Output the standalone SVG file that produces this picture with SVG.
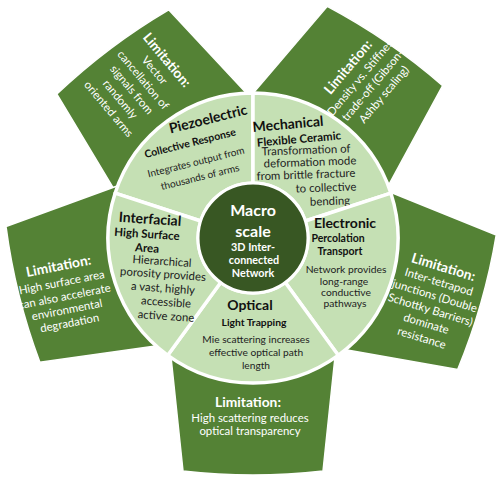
<svg xmlns="http://www.w3.org/2000/svg" width="502" height="485" viewBox="0 0 502 485">
<defs>
<path id="petal" d="M 90.3,40 L 70,233 A 614 614 0 0 1 -70,233 L -90.3,40 Z"/>
</defs>
<style>
.petal{fill:#548235;stroke:#ffffff;stroke-width:1.5}
.sector{fill:#c5e0b4;stroke:#ffffff;stroke-width:3.5;stroke-linejoin:round}
.core{fill:#385723;stroke:#ffffff;stroke-width:3}
text{font-family:Lato,"Open Sans","Liberation Sans",sans-serif;text-anchor:middle}
.lt{font-size:13.8px;font-weight:bold;fill:#ffffff}
.lb{font-size:11.4px;fill:#ffffff}
.h{font-size:14px;font-weight:bold;fill:#111111}
.s{font-weight:bold;fill:#111111}
.t{fill:#222222}
.ct{font-size:16px;font-weight:bold;fill:#ffffff}
.cs{font-size:10.8px;font-weight:bold;fill:#ffffff}
</style>

<g id="limit-piezoelectric">
<use href="#petal" class="petal" transform="translate(253,238) rotate(143)"/>
<g transform="translate(167,60) rotate(50)">
<text class="lt" x="0" y="4.8">Limitation:</text>
<text class="lb" x="0" y="20">Vector</text>
<text class="lb" x="0" y="35">cancellation of</text>
<text class="lb" x="0" y="50">signals from</text>
<text class="lb" x="0" y="65">randomly</text>
<text class="lb" x="0" y="80">oriented arms</text>
</g>
</g>

<g id="limit-mechanical">
<use href="#petal" class="petal" transform="translate(253,238) rotate(214.5)"/>
<g transform="translate(348,67) rotate(-50)">
<text class="lt" x="0" y="4.8">Limitation:</text>
<text class="lb" x="2" y="20">Density vs. Stiffness</text>
<text class="lb" x="2" y="34.5">trade-off (Gibson-</text>
<text class="lb" x="2" y="49">Ashby scaling)</text>
</g>
</g>

<g id="limit-electronic">
<use href="#petal" class="petal" transform="translate(253,238) rotate(286)"/>
<g transform="translate(443.5,267) rotate(17)">
<text class="lt" x="0" y="4.8">Limitation:</text>
<text class="lb" x="0" y="19.5">Inter-tetrapod</text>
<text class="lb" x="0" y="34">junctions (Double</text>
<text class="lb" x="0" y="48.5">Schottky Barriers)</text>
<text class="lb" x="0" y="63">dominate</text>
<text class="lb" x="0" y="78">resistance</text>
</g>
</g>

<g id="limit-optical">
<use href="#petal" class="petal" transform="translate(253,238)"/>
<text class="lt" x="248" y="406.8">Limitation:</text>
<text class="lb" x="250" y="422">High scattering reduces</text>
<text class="lb" x="250" y="435">optical transparency</text>
</g>

<g id="limit-interfacial">
<use href="#petal" class="petal" transform="translate(249,238) rotate(76)"/>
<g transform="translate(58.5,266) rotate(-11)">
<text class="lt" x="0" y="4.8">Limitation:</text>
<text class="lb" x="0" y="20.5">High surface area</text>
<text class="lb" x="0" y="35">can also accelerate</text>
<text class="lb" x="0" y="48.5">environmental</text>
<text class="lb" x="0" y="62">degradation</text>
</g>
</g>

<g id="piezoelectric">
<path class="sector" d="M 115.10,193.19 A 145 145 0 0 1 253,93 L 253,183 A 55 55 0 0 0 200.69,221 Z"/>
<text class="h" transform="translate(208,119) rotate(-14)" y="4.9">Piezoelectric</text>
<text class="s" font-size="10.5" transform="translate(190,143) rotate(-14)" y="3.7">Collective Response</text>
<text class="t" font-size="10" transform="translate(196,162) rotate(-14)" y="3.5">Integrates output from</text>
<text class="t" font-size="10" transform="translate(200,177) rotate(-14)" y="3.5">thousands of arms</text>
</g>

<g id="mechanical">
<path class="sector" d="M 253,93 A 145 145 0 0 1 390.90,193.19 L 305.31,221 A 55 55 0 0 0 253,183 Z"/>
<text class="h" transform="translate(288,124) rotate(-5)" y="4.9">Mechanical</text>
<text class="s" font-size="11.5" transform="translate(299,139) rotate(-5)" y="4">Flexible Ceramic</text>
<text class="t" font-size="11.4" transform="translate(306,150) rotate(-2)" y="4">Transformation of</text>
<text class="t" font-size="11.4" transform="translate(310,162) rotate(-2)" y="4">deformation mode</text>
<text class="t" font-size="11.4" transform="translate(306,174.5) rotate(-2)" y="4">from brittle fracture</text>
<text class="t" font-size="11.4" transform="translate(326,187.5) rotate(-2)" y="4">to collective</text>
<text class="t" font-size="11.4" transform="translate(330,201) rotate(-2)" y="4">bending</text>
</g>

<g id="electronic">
<path class="sector" d="M 390.90,193.19 A 145 145 0 0 1 338.23,355.31 L 285.33,282.50 A 55 55 0 0 0 305.31,221 Z"/>
<text class="h" x="345" y="227.9">Electronic</text>
<text class="s" font-size="10.5" x="338" y="241.7">Percolation</text>
<text class="s" font-size="10.5" x="340" y="254.7">Transport</text>
<text class="t" font-size="10.3" x="346" y="272.6">Network provides</text>
<text class="t" font-size="10.3" x="344" y="284.6">long-range</text>
<text class="t" font-size="10.3" x="346" y="295.6">conductive</text>
<text class="t" font-size="10.3" x="345" y="306.6">pathways</text>
</g>

<g id="optical">
<path class="sector" d="M 338.23,355.31 A 145 145 0 0 1 167.77,355.31 L 220.67,282.50 A 55 55 0 0 0 285.33,282.50 Z"/>
<text class="h" x="250" y="309.9">Optical</text>
<text class="s" font-size="10.3" x="254" y="325.6">Light Trapping</text>
<text class="t" font-size="10.2" x="256" y="342.6">Mie scattering increases</text>
<text class="t" font-size="10.2" x="256" y="355.6">effective optical path</text>
<text class="t" font-size="10.2" x="256" y="368.6">length</text>
</g>

<g id="interfacial">
<path class="sector" d="M 167.77,355.31 A 145 145 0 0 1 115.10,193.19 L 200.69,221 A 55 55 0 0 0 220.67,282.50 Z"/>
<text class="h" transform="translate(150,219) rotate(4)" y="4.9">Interfacial</text>
<text class="s" font-size="11.5" transform="translate(147,234) rotate(4)" y="4">High Surface</text>
<text class="s" font-size="11.5" transform="translate(147,248) rotate(4)" y="4">Area</text>
<text class="t" font-size="11.4" transform="translate(162,261) rotate(4)" y="4">Hierarchical</text>
<text class="t" font-size="11.4" transform="translate(163,274) rotate(4)" y="4">porosity provides</text>
<text class="t" font-size="11.4" transform="translate(163,288) rotate(4)" y="4">a vast, highly</text>
<text class="t" font-size="11.4" transform="translate(166,302) rotate(4)" y="4">accessible</text>
<text class="t" font-size="11.4" transform="translate(166,316) rotate(4)" y="4">active zone</text>
</g>

<g id="macro-scale">
<circle class="core" cx="253" cy="238" r="55"/>
<text class="ct" x="253" y="215.6">Macro</text>
<text class="ct" x="253" y="236.6">scale</text>
<text class="cs" x="253" y="250.8">3D Inter-</text>
<text class="cs" x="254" y="263.8">connected</text>
<text class="cs" x="253" y="276.8">Network</text>
</g>
</svg>
